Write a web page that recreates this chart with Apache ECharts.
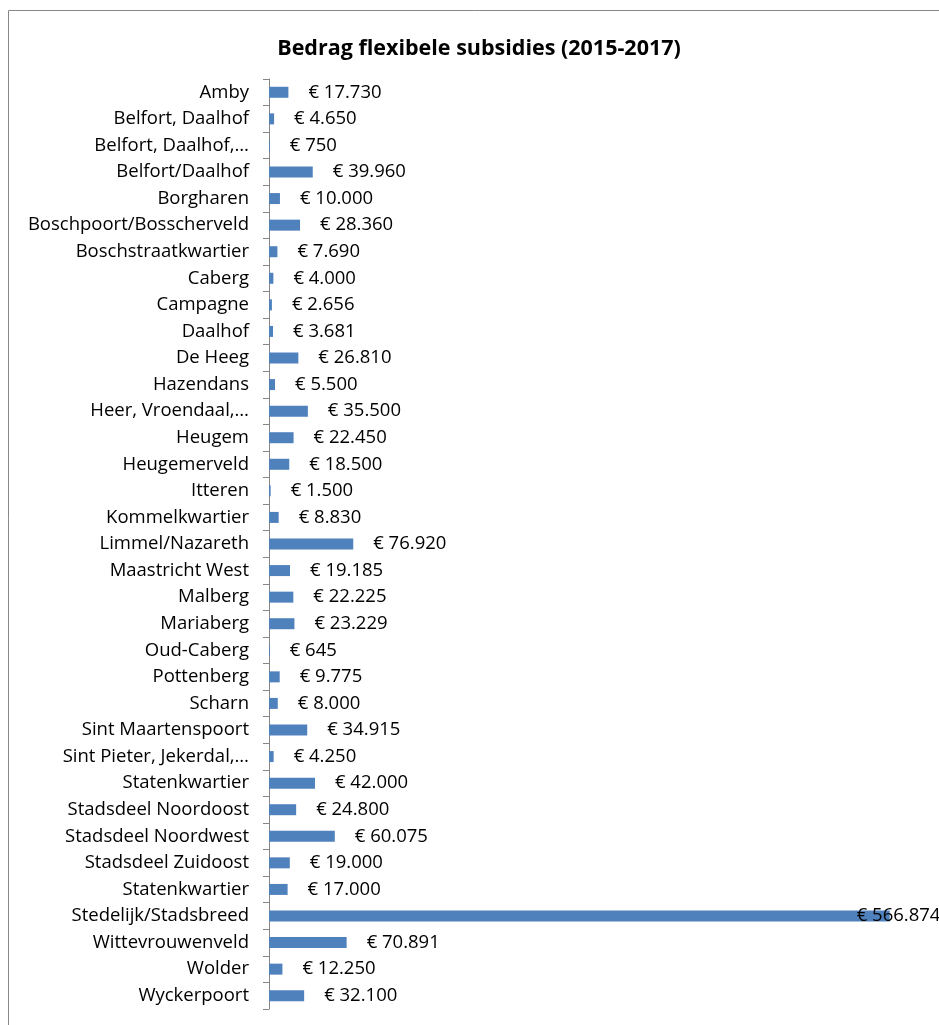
<!DOCTYPE html>
<html><head><meta charset="utf-8">
<script src="https://cdn.jsdelivr.net/npm/echarts@6/dist/echarts.min.js"></script>
<style>html,body{margin:0;padding:0;background:#fff}#c{width:939px;height:1025px}</style>
</head><body><div id="c"></div>
<script>
var categories = ["Amby","Belfort, Daalhof","Belfort, Daalhof,…","Belfort/Daalhof","Borgharen","Boschpoort/Bosscherveld","Boschstraatkwartier","Caberg","Campagne","Daalhof","De Heeg","Hazendans","Heer, Vroendaal,…","Heugem","Heugemerveld","Itteren","Kommelkwartier","Limmel/Nazareth","Maastricht West","Malberg","Mariaberg","Oud-Caberg","Pottenberg","Scharn","Sint Maartenspoort","Sint Pieter, Jekerdal,…","Statenkwartier","Stadsdeel Noordoost","Stadsdeel Noordwest","Stadsdeel Zuidoost","Statenkwartier","Stedelijk/Stadsbreed","Wittevrouwenveld","Wolder","Wyckerpoort"];
var amounts = [17730,4650,750,39960,10000,28360,7690,4000,2656,3681,26810,5500,35500,22450,18500,1500,8830,76920,19185,22225,23229,645,9775,8000,34915,4250,42000,24800,60075,19000,17000,566874,70891,12250,32100];
var title = "Bedrag flexibele subsidies (2015-2017)";

function fmt(v){ return '€ ' + String(v).replace(/\B(?=(\d{3})+(?!\d))/g,'.'); }
var FONT = 'Open Sans';
var data = amounts.map(function(v){
  var d = {value: v};
  if (v === Math.max.apply(null, amounts)) d.label = {offset: [-53, 0]};
  return d;
});
var chart = echarts.init(document.getElementById('c'));
chart.setOption({
  animation: false,
  title: {text: title, left: 474, textAlign: 'center', top: 33,
    textStyle: {fontFamily: FONT, fontWeight: 'bold', fontSize: 21.5, color: '#000'}},
  graphic: [{type: 'rect', shape: {x: 8.5, y: 10.5, width: 1000, height: 1100},
    style: {fill: null, stroke: '#888', lineWidth: 1}, silent: true}],
  grid: {left: 269, right: 13, top: 79, bottom: 16, containLabel: false},
  xAxis: {type: 'value', min: 0, max: 600000, show: false},
  yAxis: {type: 'category', data: categories, inverse: true,
    axisLine: {lineStyle: {color: '#868686', width: 1}},
    axisTick: {show: true, length: 6, lineStyle: {color: '#868686'}},
    axisLabel: {fontFamily: FONT, fontSize: 18.5, color: '#000', margin: 20}},
  series: [{type: 'bar', data: data, barWidth: 11, itemStyle: {color: '#4F81BD'},
    label: {show: true, position: 'right', distance: 20, fontFamily: FONT, fontSize: 18.5, color: '#000',
      formatter: function(p){ return fmt(p.value); }}}]
});
</script></body></html>
